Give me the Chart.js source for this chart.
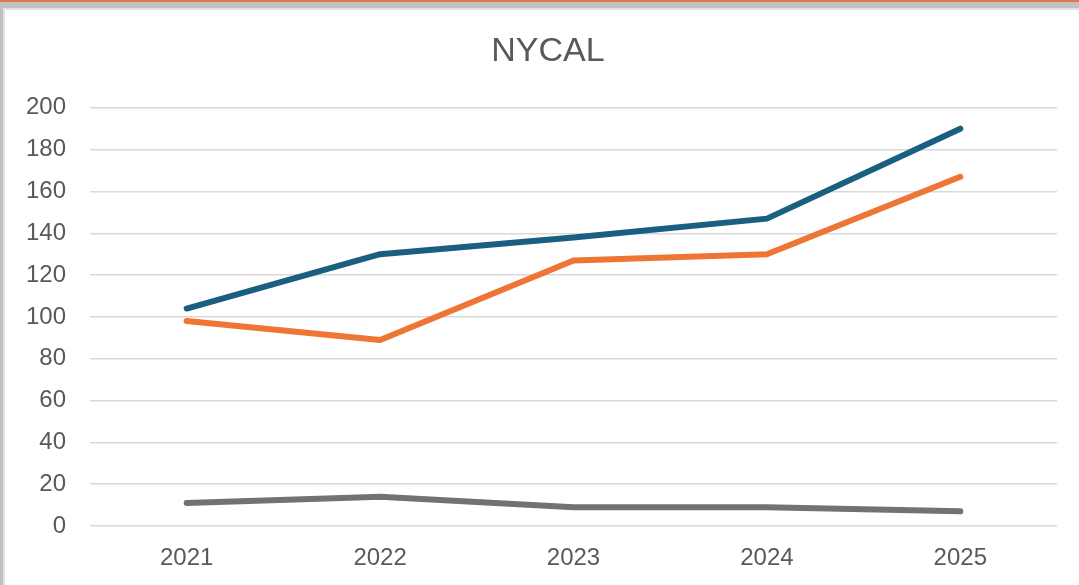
<!DOCTYPE html>
<html>
<head>
<meta charset="utf-8">
<script src="https://cdn.jsdelivr.net/npm/chart.js@4"></script>
<style>
  html, body { margin: 0; padding: 0; background: #fff; overflow: hidden; }
  #topline { position: absolute; left: 0; top: 0; width: 1079px; height: 2px; background: #e8744a; }
  #band { position: absolute; left: 0; top: 2px; width: 1079px; height: 6px; background: #c0c0c0; }
  #band2 { position: absolute; left: 0; top: 8px; width: 1079px; height: 2px; background: #e2e2e2; }
  #side { position: absolute; left: 0; top: 2px; width: 3px; height: 583px; background: #c0c0c0; }
  #side2 { position: absolute; left: 3px; top: 8px; width: 2px; height: 577px; background: #e2e2e2; }
  #NChart { position: absolute; left: 0; top: 0; }
</style>
</head>
<body>
<div id="topline"></div>
<div id="band"></div>
<div id="band2"></div>
<div id="side"></div>
<div id="side2"></div>
<canvas id="NChart" width="1079" height="585"></canvas>
<script>
var years = ['2021', '2022', '2023', '2024', '2025']
var blueVals = [104, 130, 138, 147, 190]
var orangeVals = [98, 89, 127, 130, 167]
var grayVals = [11, 14, 9, 9, 7]

var FONT = '"Liberation Sans", Arial, sans-serif'
var TXT = '#595959'

function lineDs(data, color){
    return {
      data: data,
      borderColor: color,
      backgroundColor: color,
      borderWidth: 6,
      borderCapStyle: 'round',
      borderJoinStyle: 'round',
      pointRadius: 0,
      tension: 0,
      fill: false
    }
}

var ctx = document.getElementById('NChart').getContext('2d')
var chart = new Chart(ctx, {
    type: 'line',
    data: {
      labels: years,
      datasets: [
        lineDs(blueVals, '#1b5f80'),
        lineDs(orangeVals, '#ee7533'),
        lineDs(grayVals, '#727272')
      ]
    },
    options: {
      responsive: false,
      animation: false,
      devicePixelRatio: 1,
      layout: { padding: { left: 17, right: 0, top: 0, bottom: 0 } },
      plugins: {
        legend: { display: false },
        tooltip: { enabled: false },
        title: {
          display: true,
          text: 'NYCAL',
          color: TXT,
          font: { family: FONT, size: 34, weight: 'normal', lineHeight: 1.2 },
          padding: { top: 31, bottom: 36 }
        }
      },
      scales: {
        x: {
          offset: true,
          grid: { display: false, drawTicks: false },
          border: { display: false },
          ticks: { color: TXT, font: { family: FONT, size: 24 }, padding: 18, maxRotation: 0 },
          afterFit: function(a){ a.height = 59 }
        },
        y: {
          min: 0,
          max: 200,
          grid: { color: '#d9d9d9', lineWidth: 1.5, drawTicks: false },
          border: { display: false },
          ticks: { stepSize: 20, color: TXT, font: { family: FONT, size: 24 }, padding: 24 },
          afterFit: function(a){ a.width = 73 }
        },
        // empty right-hand axis, only to keep the plot's right edge
        yRight: {
          position: 'right',
          display: true,
          grid: { display: false, drawTicks: false },
          border: { display: false },
          ticks: { display: false },
          afterFit: function(a){ a.width = 22 }
        }
      }
    }
})
</script>
</body>
</html>
